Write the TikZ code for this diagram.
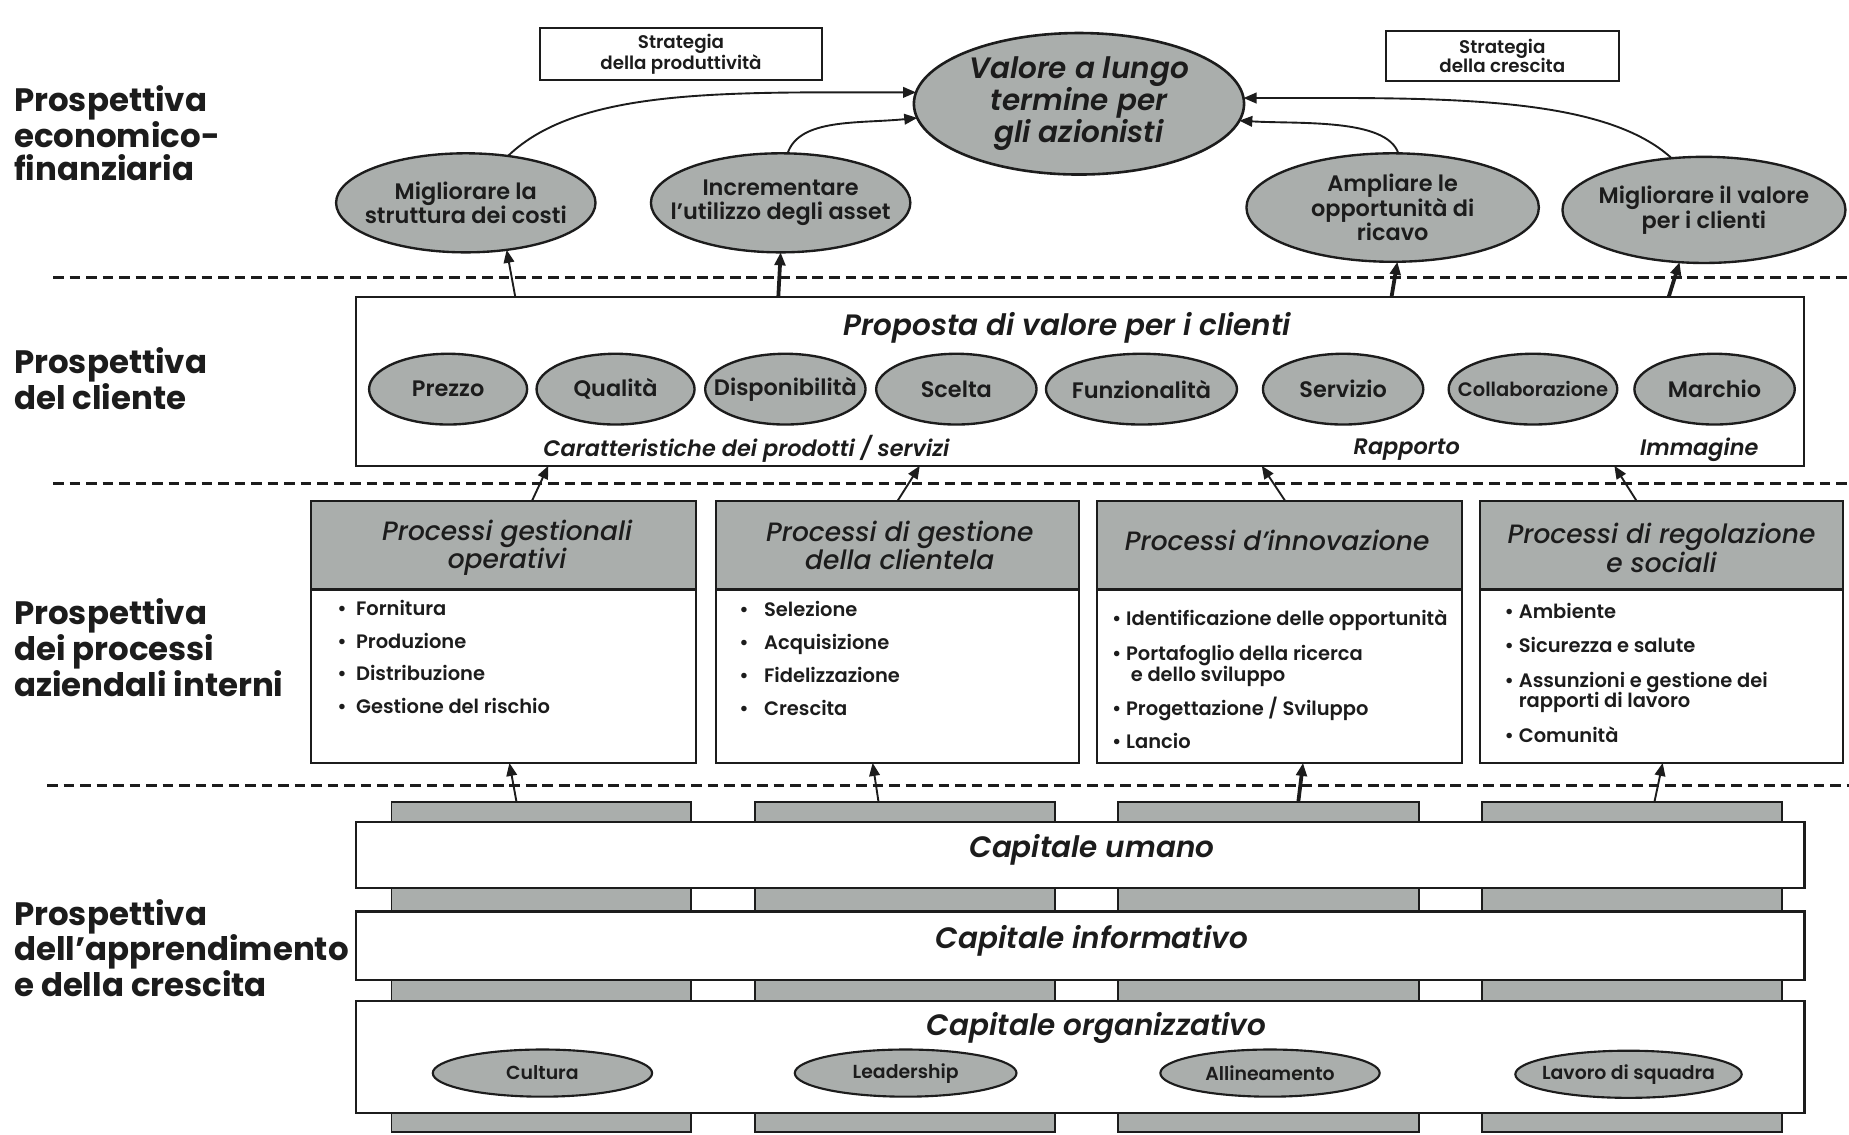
\documentclass[tikz,border=0pt]{standalone}
\usepackage{fontspec}
\setmainfont{Poppins}[BoldFont={Poppins SemiBold},BoldItalicFont={Poppins SemiBold Italic}]
\newfontfamily\medium{Poppins Medium}[ItalicFont={Poppins Medium Italic}]
\newfontfamily\heavy{Poppins Bold}
\usetikzlibrary{shapes.geometric,arrows.meta}
\definecolor{ink}{RGB}{28,28,28}
\definecolor{shade}{RGB}{170,174,172}
\newcommand\fs[2]{\fontsize{#1}{#2}\selectfont}
\newcommand\bul[1]{\makebox[#1][l]{•}}

\begin{document}
\begin{tikzpicture}[x=1pt,y=-1pt,
  every node/.style={inner sep=0pt, outer sep=0pt, text=ink},
  persp/.style={font=\fs{27.5}{28}\heavy, align=left, anchor=west},
  stratbox/.style={draw=ink, line width=1.6pt, font=\fs{15.5}{16.5}\bfseries, align=center},
  oval/.style={ellipse, draw=ink, fill=shade, line width=2pt},
  goaltext/.style={align=center, font=\fs{19}{21}\bfseries},
  valtext/.style={align=center, font=\fs{25}{27}\bfseries\itshape},
  panel/.style={draw=ink, line width=2pt},
  attrtext/.style={font=\fs{19}{20}\bfseries},
  tagtext/.style={font=\fs{19}{21}\bfseries\itshape},
  header/.style={draw=ink, fill=shade, line width=2pt},
  headtext/.style={align=center, font=\fs{22.5}{23}\medium\itshape},
  item/.style={anchor=mid west, font=\fs{16.5}{17}\bfseries},
  column/.style={draw=ink, fill=shade, line width=1.6pt},
  bar/.style={draw=ink, fill=white, line width=2.2pt},
  bartext/.style={font=\fs{25}{26}\bfseries\itshape},
  culttext/.style={font=\fs{16}{17}\bfseries},
  sep/.style={draw=ink, line width=2.4pt, dash pattern=on 9pt off 5pt},
  arr/.style={draw=ink, line width=1.6pt, -{Triangle[length=11pt,width=9pt]}},
  fatarr/.style={arr, line width=3.2pt},
]
\useasboundingbox (0,0) rectangle (1568,962);
\fill[white] (0,0) rectangle (1568,962);

% perspective titles
\node[persp] (lp1) at (12,113) {Prospettiva\\economico-\\finanziaria};
\node[persp] (lp2) at (12,321) {Prospettiva\\del cliente};
\node[persp] (lp3) at (12,549) {Prospettiva\\dei processi\\aziendali interni};
\node[persp] (lp4) at (12,804) {Prospettiva\\dell’apprendimento\\e della crescita};

% boundaries between perspectives
\draw[sep] (45,235) -- (1568,235);
\draw[sep] (45,410) -- (1568,410);
\draw[sep] (40,666) -- (1568,666);

% ---------- economic-financial perspective ----------
\node[stratbox, minimum width=239, minimum height=44] (s1) at (577.5,46) {Strategia\\della produttività};
\node[stratbox, minimum width=198, minimum height=43] (s2) at (1274,47.5) {Strategia\\della crescita};

\node[oval, line width=2.2pt, minimum width=280, minimum height=120] (V) at (915,88) {};
\node[valtext] (Vt) at (V) {Valore a lungo\\termine per\\gli azionisti};

\node[oval, minimum width=220, minimum height=84] (F1) at (395,172) {};
\node[goaltext] (F1t) at (F1) {Migliorare la\\struttura dei costi};
\node[oval, minimum width=220, minimum height=84] (F2) at (662,172) {};
\node[goaltext] (F2t) at (F2) {Incrementare\\l’utilizzo degli asset};
\node[oval, minimum width=248, minimum height=92] (F3) at (1181,176) {};
\node[goaltext] (F3t) at (F3) {Ampliare le\\opportunità di\\ricavo};
\node[oval, minimum width=240, minimum height=90] (F4) at (1445,178) {};
\node[goaltext] (F4t) at (F4) {Migliorare il valore\\per i clienti};

\draw[arr] (F1.48) .. controls +(60,-58) and +(-160,0) .. (V.176);
\draw[arr] (F2.82) .. controls +(10,-30) and +(-50,5) .. (V.185);
\draw[arr] (F3.84) .. controls +(-10,-30) and +(50,3) .. (V.354);
\draw[arr] (F4.122) .. controls +(-60,-55) and +(160,0) .. (V.2);

% ---------- customer perspective ----------
\node[panel, minimum width=1228, minimum height=143] (C) at (916,323.5) {};
\node[font=\fs{25}{26}\bfseries\itshape] (Ct) at (905,278) {Proposta di valore per i clienti};

\node[oval, minimum width=134, minimum height=60] (e1) at (380,330) {};
\node[attrtext] (e1t) at (e1) {Prezzo};
\node[oval, minimum width=134, minimum height=60] (e2) at (522,330) {};
\node[attrtext] (e2t) at (e2) {Qualità};
\node[oval, minimum width=136, minimum height=60] (e3) at (666,330) {};
\node[attrtext] (e3t) at (e3) {Disponibilità};
\node[oval, minimum width=136, minimum height=60] (e4) at (811,330) {};
\node[attrtext] (e4t) at (e4) {Scelta};
\node[oval, minimum width=162, minimum height=60] (e5) at (968,330) {};
\node[attrtext] (e5t) at (e5) {Funzionalità};
\node[oval, minimum width=136, minimum height=60] (e6) at (1139,330) {};
\node[attrtext] (e6t) at (e6) {Servizio};
\node[oval, minimum width=143, minimum height=60] (e7) at (1300,330) {};
\node[attrtext, font=\fs{16.5}{17}\bfseries] (e7t) at (e7) {Collaborazione};
\node[oval, minimum width=136, minimum height=60] (e8) at (1454,330) {};
\node[attrtext] (e8t) at (e8) {Marchio};

\node[tagtext] (g1) at (633,381) {Caratteristiche dei prodotti / servizi};
\node[tagtext] (g2) at (1193,381) {Rapporto};
\node[tagtext] (g3) at (1441,381) {Immagine};

\draw[arr] ([xshift=-479pt]C.north) -- (F1.-49);
\draw[fatarr] ([xshift=-256pt]C.north) -- (F2.south);
\draw[fatarr] ([xshift=264pt]C.north) -- (F3.-85);
\draw[fatarr] ([xshift=499pt]C.north) -- (F4.-115);

% ---------- internal process perspective ----------
\node[header, minimum width=326, minimum height=75] (H1) at (427,462.5) {};
\node[header, minimum width=308, minimum height=75] (H2) at (761,462.5) {};
\node[header, minimum width=310, minimum height=75] (H3) at (1085,462.5) {};
\node[header, minimum width=308, minimum height=75] (H4) at (1409,462.5) {};
\node[panel, minimum width=326, minimum height=222] (P1) at (427,536) {};
\node[panel, minimum width=308, minimum height=222] (P2) at (761,536) {};
\node[panel, minimum width=310, minimum height=222] (P3) at (1085,536) {};
\node[panel, minimum width=308, minimum height=222] (P4) at (1409,536) {};

\node[headtext] (H1t) at (430,464.5) {Processi gestionali\\operativi};
\node[headtext] (H2t) at (763,462.5) {Processi di gestione\\della clientela};
\node[headtext] (H3t) at (1083,458) {Processi d’innovazione};
\node[headtext] (H4t) at (1409,464.5) {Processi di regolazione\\e sociali};

\node[item] (i11) at (286,519) {\bul{16pt}Fornitura};
\node[item] (i12) at (286,547) {\bul{16pt}Produzione};
\node[item] (i13) at (286,574) {\bul{16pt}Distribuzione};
\node[item] (i14) at (286,602) {\bul{16pt}Gestione del rischio};

\node[item] (i21) at (627,520) {\bul{21pt}Selezione};
\node[item] (i22) at (627,548) {\bul{21pt}Acquisizione};
\node[item] (i23) at (627,576) {\bul{21pt}Fidelizzazione};
\node[item] (i24) at (627,604) {\bul{21pt}Crescita};

\node[item] (i31) at (943,528) {\bul{12pt}Identificazione delle opportunità};
\node[item] (i32) at (943,557) {\bul{12pt}Portafoglio della ricerca};
\node[item] (i32b) at (959,575) {e dello sviluppo};
\node[item] (i33) at (943,604) {\bul{12pt}Progettazione / Sviluppo};
\node[item] (i34) at (943,632) {\bul{12pt}Lancio};

\node[item] (i41) at (1276,522) {\bul{12pt}Ambiente};
\node[item] (i42) at (1276,551) {\bul{12pt}Sicurezza e salute};
\node[item] (i43) at (1276,580) {\bul{12pt}Assunzioni e gestione dei};
\node[item] (i43b) at (1288,597) {rapporti di lavoro};
\node[item] (i44) at (1276,627) {\bul{12pt}Comunità};

\draw[arr] ([xshift=24pt]P1.north) -- ([xshift=-451pt]C.south);
\draw[arr] (P2.north) -- ([xshift=-136pt]C.south);
\draw[arr] ([xshift=5pt]P3.north) -- ([xshift=154pt]C.south);
\draw[arr] ([xshift=-21pt]P4.north) -- ([xshift=453pt]C.south);

% ---------- learning and growth perspective ----------
\node[column, minimum width=254, minimum height=280] (T1) at (459,820) {};
\node[column, minimum width=255, minimum height=280] (T2) at (767.5,820) {};
\node[column, minimum width=255, minimum height=280] (T3) at (1075.5,820) {};
\node[column, minimum width=254, minimum height=280] (T4) at (1384,820) {};

\node[bar, minimum width=1228, minimum height=56] (B1) at (916,725) {};
\node[bar, minimum width=1228, minimum height=58] (B2) at (916,802) {};
\node[bar, minimum width=1228, minimum height=95] (B3) at (916,896.5) {};

\node[bartext] (B1t) at (926,721) {Capitale umano};
\node[bartext] (B2t) at (926,798) {Capitale informativo};
\node[bartext] (B3t) at (930,872) {Capitale organizzativo};

\node[oval, line width=1.8pt, minimum width=186, minimum height=40] (o1) at (460,910) {};
\node[culttext] (o1t) at (o1) {Cultura};
\node[oval, line width=1.8pt, minimum width=188, minimum height=40] (o2) at (768,910) {};
\node[culttext] (o2t) at (o2) {Leadership};
\node[oval, line width=1.8pt, minimum width=186, minimum height=40] (o3) at (1077,910) {};
\node[culttext] (o3t) at (o3) {Allineamento};
\node[oval, line width=1.8pt, minimum width=192, minimum height=40] (o4) at (1381,911) {};
\node[culttext] (o4t) at (o4) {Lavoro di squadra};

\draw[arr] ([xshift=-21pt]T1.north) -- ([xshift=5pt]P1.south);
\draw[arr] ([xshift=-22.5pt]T2.north) -- ([xshift=-21pt]P2.south);
\draw[fatarr] ([xshift=25.5pt]T3.north) -- ([xshift=20pt]P3.south);
\draw[arr] ([xshift=19pt]T4.north) -- ([xshift=1pt]P4.south);
\end{tikzpicture}
\end{document}
